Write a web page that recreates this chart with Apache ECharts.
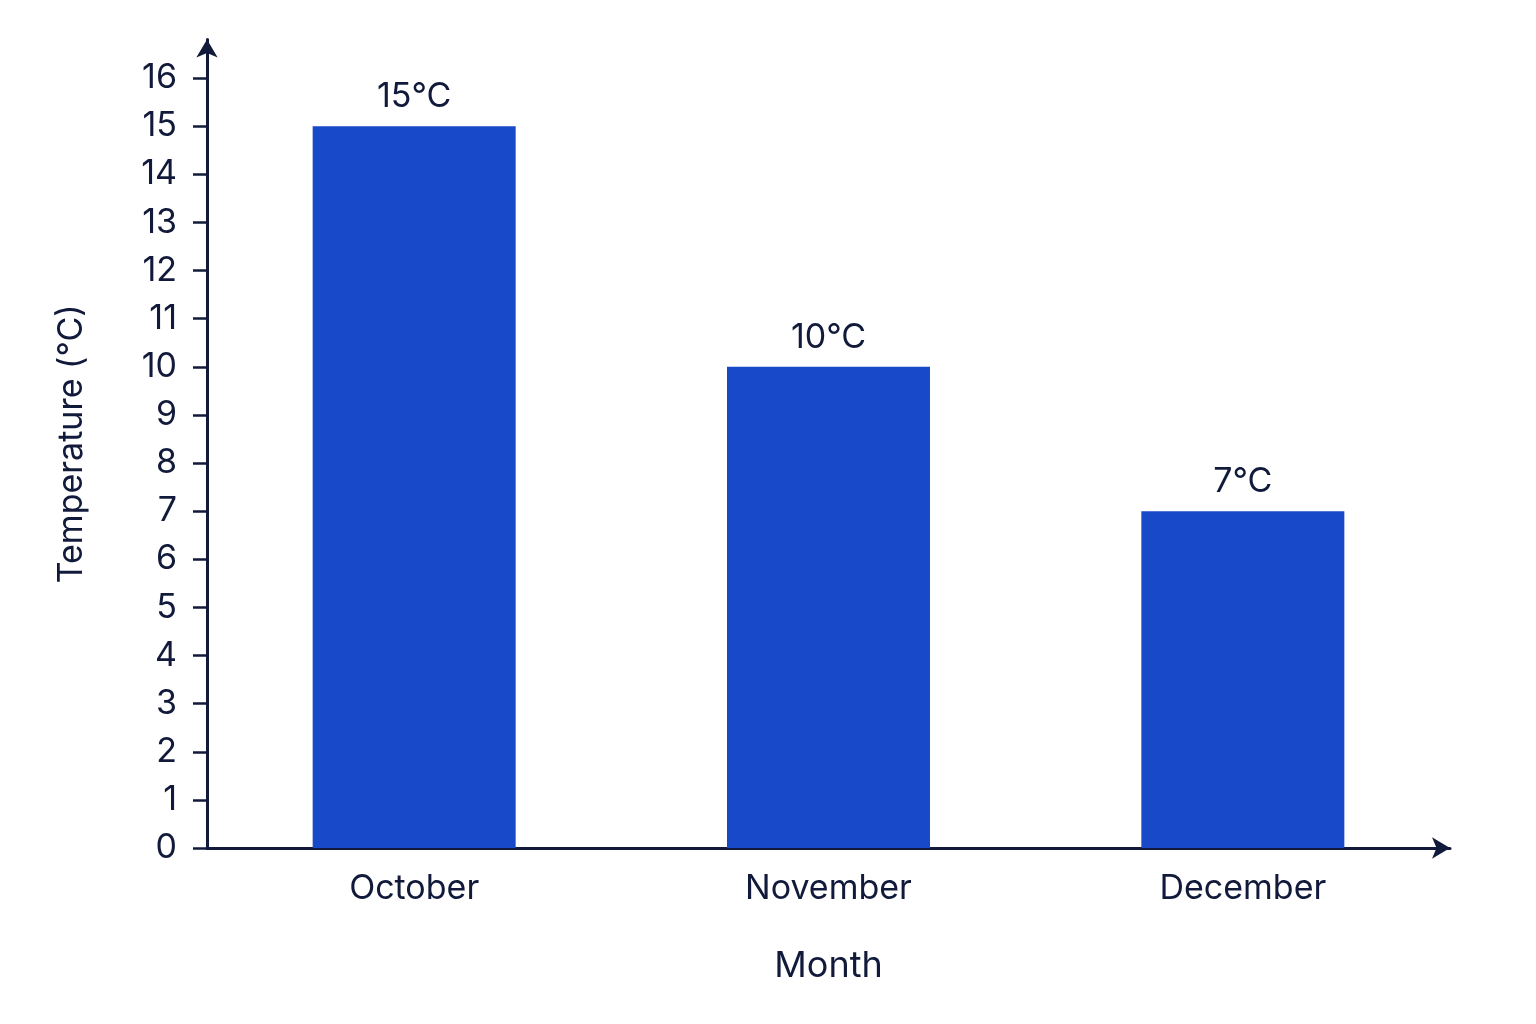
<!DOCTYPE html>
<html><head><meta charset="utf-8">
<script src="https://cdn.jsdelivr.net/npm/echarts@6/dist/echarts.min.js"></script>
<style>html,body{margin:0;background:#fff}#c{width:1536px;height:1024px}</style>
</head><body><div id="c"></div>
<script>
const categories = ['October', 'November', 'December'];
const temperatures = [15, 10, 7];
const yTicks = [0,1,2,3,4,5,6,7,8,9,10,11,12,13,14,15,16];
const ink = '#111a3a';
const chart = echarts.init(document.getElementById('c'));
chart.setOption({
  animation: false,
  grid: { left: 207, right: 86, top: 39.5, bottom: 176 },
  xAxis: {
    type: 'category', data: categories,
    name: 'Month', nameLocation: 'middle', nameGap: 100,
    nameTextStyle: { fontSize: 36, color: ink, fontFamily: 'Inter' },
    axisLine: { lineStyle: { color: ink, width: 3 }, symbol: ['none', 'arrow'], symbolSize: [16, 18] },
    axisTick: { show: false },
    axisLabel: { fontSize: 34, color: ink, margin: 24, fontFamily: 'Inter' }
  },
  yAxis: {
    type: 'value', min: 0, max: 16.8,
    name: 'Temperature (°C)', nameLocation: 'middle', nameGap: 118,
    nameTextStyle: { fontSize: 34, color: ink, fontFamily: 'Inter' },
    axisLine: { show: true, lineStyle: { color: ink, width: 3 }, symbol: ['none', 'arrow'], symbolSize: [16, 18] },
    axisTick: { show: true, length: 14, customValues: yTicks, lineStyle: { color: ink, width: 2.5 } },
    axisLabel: { fontSize: 34, color: ink, margin: 30, customValues: yTicks, fontFamily: 'Inter' },
    splitLine: { show: false }
  },
  series: [{
    type: 'bar', data: temperatures, barWidth: 203,
    itemStyle: { color: '#1749c8' },
    label: { show: true, position: 'top', distance: 12, formatter: '{c}°C', fontSize: 34, color: ink, fontFamily: 'Inter' }
  }]
});
</script></body></html>
